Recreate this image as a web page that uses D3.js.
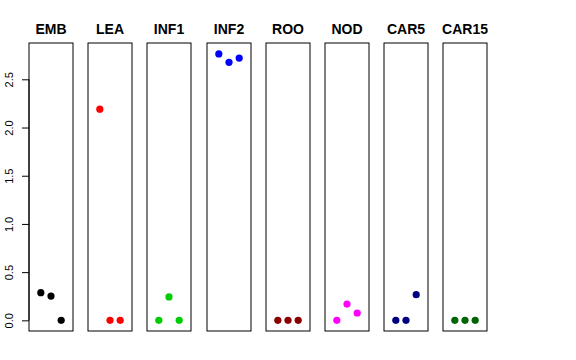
<!DOCTYPE html>
<html><head><meta charset="utf-8">
<script src="https://cdn.jsdelivr.net/npm/d3@7/dist/d3.min.js"></script>
<style>body{margin:0;background:#fff}svg{display:block}</style>
</head><body>
<svg id="c" width="576" height="360"></svg>
<script>
const categories = ["EMB","LEA","INF1","INF2","ROO","NOD","CAR5","CAR15"];
const colors = ["#000000","#FF0000","#00CD00","#0000FF","#8B0000","#FF00FF","#000080","#006400"];
const EMB = [0.287, 0.252, 0];
const LEA = [2.19, 0, 0];
const INF1 = [0, 0.243, 0];
const INF2 = [2.763, 2.676, 2.72];
const ROO = [0, 0, 0];
const NOD = [0, 0.169, 0.076];
const CAR5 = [0, 0, 0.266];
const CAR15 = [0, 0, 0];
const series = [EMB, LEA, INF1, INF2, ROO, NOD, CAR5, CAR15];
const yTicks = [0, 0.5, 1.0, 1.5, 2.0, 2.5];

(function(){
const svg = d3.select("#c");
const panelLeft0 = 29, panelStep = 59.2, panelW = 44;
const pTop = 43, pBottom = 331;
const ymin = 0, ymax = 2.766, ypad = (ymax - ymin) * 0.04;
const y = d3.scaleLinear().domain([ymin - ypad, ymax + ypad]).range([pBottom, pTop]);

categories.forEach((cat, i) => {
  const x0 = Math.round(panelLeft0 + i * panelStep);
  const x = d3.scaleLinear().domain([0 - 0.16, 4 + 0.16]).range([x0, x0 + panelW]);
  const g = svg.append("g");
  g.append("rect").attr("x", x0).attr("y", pTop).attr("width", panelW).attr("height", pBottom - pTop)
    .attr("fill", "none").attr("stroke", "#000").attr("stroke-width", 1);
  g.selectAll("circle").data(series[i]).join("circle")
    .attr("cx", (d, j) => x(j + 1)).attr("cy", d => y(d)).attr("r", 3.6)
    .attr("fill", colors[i]);
  g.append("text").attr("x", x0 + panelW / 2).attr("y", 34).attr("text-anchor", "middle")
    .attr("font-family", "Liberation Sans, Arial, sans-serif").attr("font-weight", "bold")
    .attr("font-size", 14).text(cat);
});

const ax = svg.append("g").attr("transform", `translate(${panelLeft0},0)`);
ax.call(d3.axisLeft(y).tickValues(yTicks).tickSize(7).tickPadding(4).tickFormat(d3.format(".1f")));
ax.select(".domain").attr("d", `M0,${y(0)}V${y(2.5)}`).attr("stroke", "#000");
ax.selectAll(".tick line").attr("stroke", "#000");
ax.selectAll(".tick text")
  .attr("font-family", "Liberation Sans, Arial, sans-serif").attr("font-size", 11)
  .attr("fill", "#000")
  .attr("x", 0).attr("y", 0)
  .attr("dy", "0.35em")
  .attr("text-anchor", "middle")
  .attr("transform", "translate(-20,0) rotate(-90)");
})();
</script>
</body></html>
